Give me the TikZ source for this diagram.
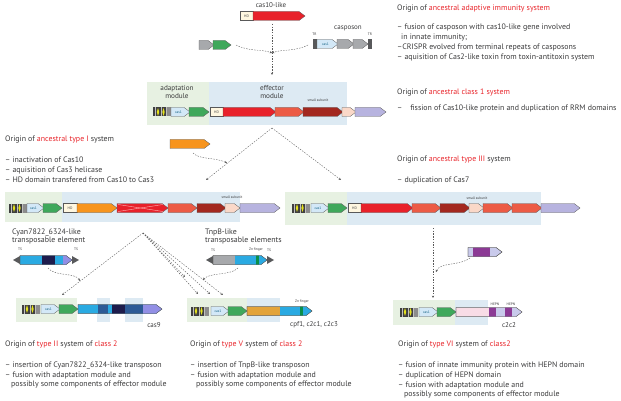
\documentclass[tikz,border=0pt]{standalone}
\usepackage{fontspec}
\setmainfont{PT Sans}
\usetikzlibrary{arrows.meta}
\definecolor{txtgray}{HTML}{3A3A3B}
\definecolor{hotred}{HTML}{E8252B}
\definecolor{casred}{HTML}{E8212A}
\definecolor{salmon}{HTML}{EC5B45}
\definecolor{darkred}{HTML}{A3281F}
\definecolor{paleskin}{HTML}{FAD8C8}
\definecolor{lavender}{HTML}{B7B3DF}
\definecolor{genegreen}{HTML}{3FA85B}
\definecolor{caslblue}{HTML}{D3E8F7}
\definecolor{hdcream}{HTML}{FFF7E0}
\definecolor{genegray}{HTML}{A7A9AC}
\definecolor{casorange}{HTML}{F7941D}
\definecolor{goldorange}{HTML}{E3A33A}
\definecolor{cyanblue}{HTML}{2AAAE2}
\definecolor{navy}{HTML}{1E1C4C}
\definecolor{midblue}{HTML}{2D5A96}
\definecolor{hepn}{HTML}{8C3A95}
\definecolor{palelav}{HTML}{C9CAEB}
\definecolor{palepink}{HTML}{F8DCE6}
\definecolor{adaptbg}{HTML}{E7F1E2}
\definecolor{effbg}{HTML}{DDEAF3}
\definecolor{tsgray}{HTML}{58595B}
\definecolor{crisprgray}{HTML}{3F3F40}
\definecolor{spacer}{HTML}{E4E21D}
\definecolor{zngreen}{HTML}{0A8F4A}
\tikzset{
	gene/.style={draw=black!65, line width=0.3pt},
	link/.style={draw=black!65, line width=0.4pt, dash pattern=on 1.4pt off 1.3pt, -{Stealth[length=2.4pt,width=2.2pt]}},
	linkplain/.style={draw=black!65, line width=0.4pt, dash pattern=on 1.4pt off 1.3pt},
	txt/.style={anchor=west, inner sep=0, text=txtgray, font=\fontsize{7.9}{9}\selectfont},
	smalltxt/.style={inner sep=0, text=txtgray, font=\fontsize{7}{8}\selectfont},
	modtxt/.style={inner sep=0, align=center, text=txtgray, font=\fontsize{7.2}{8.6}\selectfont},
	tinytxt/.style={inner sep=0, text=txtgray, font=\fontsize{3.6}{4}\selectfont}
}
\newcommand{\hl}[1]{\textcolor{hotred}{#1}}
\newcommand{\gene}[4]{\filldraw[gene,fill=#4] (#1,#3-4.5) -- (#2-6,#3-4.5) -- (#2,#3) -- (#2-6,#3+4.5) -- (#1,#3+4.5) -- cycle;}
\newcommand{\geneclip}[3]{\clip (#1,#3-4.5) -- (#2-6,#3-4.5) -- (#2,#3) -- (#2-6,#3+4.5) -- (#1,#3+4.5) -- cycle;}
\newcommand{\geneedge}[3]{\draw[gene] (#1,#3-4.5) -- (#2-6,#3-4.5) -- (#2,#3) -- (#2-6,#3+4.5) -- (#1,#3+4.5) -- cycle;}
\newcommand{\hdbox}[3]{\filldraw[gene,fill=hdcream] (#1,#3-4.5) rectangle (#2,#3+4.5); \node[tinytxt,text=black!75] at ({(#1+#2)/2},#3) {HD};}
\newcommand{\casone}[3]{\gene{#1}{#2}{#3}{caslblue} \node[tinytxt,text=cyanblue!60!black] at ({(#1+#2)/2-2},#3) {cas1};}
\newcommand{\crispr}[2]{\fill[crisprgray] (#1,#2-4.5) rectangle (#1+18,#2+4.5);
	\fill[spacer] (#1+5,#2-4) -- (#1+6.2,#2) -- (#1+5,#2+4) -- (#1+3.8,#2) -- cycle;
	\fill[spacer] (#1+10.5,#2-4) -- (#1+11.7,#2) -- (#1+10.5,#2+4) -- (#1+9.3,#2) -- cycle;
	\fill[black!45] (#1+14,#2-4.5) rectangle (#1+18,#2+4.5);
	\draw[black!25, line width=0.3pt] (#1+2,#2-4.5) -- (#1+2,#2+4.5) (#1+7.8,#2-4.5) -- (#1+7.8,#2+4.5) (#1+13,#2-4.5) -- (#1+13,#2+4.5);}
\newcommand{\tsleft}[2]{\fill[tsgray] (#1,#2-4) -- (#1-7,#2) -- (#1,#2+4) -- cycle;}
\newcommand{\tsright}[2]{\fill[tsgray] (#1,#2-4) -- (#1+7,#2) -- (#1,#2+4) -- cycle;}
\newcommand{\trbar}[2]{\fill[tsgray] (#1,#2-5) rectangle (#1+3.5,#2+5);}
\begin{document}
\begin{tikzpicture}[x=1pt,y=-1pt]
	\useasboundingbox (0,0) rectangle (621,401);
	\fill[adaptbg] (147,82) rectangle (209,125);
	\fill[effbg] (209,82) rectangle (347,125);
	\fill[adaptbg] (5,192) rectangle (62,222);
	\fill[effbg] (62,192) rectangle (240,222);
	\fill[adaptbg] (285,192) rectangle (347,225);
	\fill[effbg] (347,192) rectangle (541,225);
	\fill[adaptbg] (16,298) rectangle (77,322);
	\fill[effbg] (97,298) rectangle (110,322);
	\fill[effbg] (125,298) rectangle (143,322);
	\fill[adaptbg] (187,298) rectangle (247,322);
	\fill[effbg] (247,298) rectangle (280,322);
	\fill[adaptbg] (393,300) rectangle (455,325);
	\fill[effbg] (455,300) rectangle (488,325);

	\node[smalltxt] (cas10lbl) at (271,5) {cas10-like};
	\hdbox{240}{253}{16}
	\gene{253}{305}{16}{casred}
	\gene{199}{214}{45}{genegray}
	\gene{213}{231}{45}{genegreen}
	\node[smalltxt] (casposon) at (348,28) {casposon};
	\node[tinytxt] (trleft) at (314.5,34) {TR};
	\node[tinytxt] (trright) at (370,34) {TR};
	\trbar{313}{44}
	\casone{317}{338}{44}
	\gene{337}{354}{44}{genegray}
	\gene{353}{368}{44}{genegray}
	\trbar{368}{44}

	\coordinate (cas10out) at (272,24);
	\coordinate (merge) at (272,53);
	\coordinate (ancestor) at (272,75);
	\coordinate (greenout) at (236,45);
	\coordinate (casposonout) at (308,45);
	\draw[linkplain] (cas10out) -- (merge);
	\draw[link] (greenout) .. controls (250,52) and (262,49) .. (merge);
	\draw[link] (casposonout) .. controls (294,52) and (282,49) .. (merge);
	\draw[link] (merge) -- (ancestor);

	\node[modtxt] (adaptlbl) at (177,92) {adaptation\\module};
	\node[modtxt] (efflbl) at (272,92) {effector\\module};
	\node[tinytxt] (smallone) at (318,100) {small subunit};
	\crispr{153}{112}
	\casone{171}{190}{112}
	\gene{189}{209}{112}{genegreen}
	\hdbox{210}{223}{112}
	\gene{223}{276}{112}{casred}
	\gene{275}{304}{112}{salmon}
	\gene{303}{343}{112}{darkred}
	\gene{342}{356}{112}{paleskin}
	\gene{355}{386}{112}{lavender}

	\node[txt] (adaptive) at (397,9) {Origin of \hl{ancestral adaptive immunity system}};
	\node[txt] (adaptivea) at (397,28) {– fusion of casposon with cas10-like gene involved};
	\node[txt] (adaptiveb) at (401,37.5) {in innate immunity;};
	\node[txt] (adaptivec) at (397,47) {–CRISPR evolved from terminal repeats of casposons};
	\node[txt] (adaptived) at (397,57) {– aquisition of Cas2-like toxin from toxin-antitoxin system};
	\node[txt] (classone) at (397,93) {Origin of \hl{ancestral class 1 system}};
	\node[txt] (classonea) at (397,108) {–\hspace{8pt}fission of Cas10-like protein and duplication of RRM domains};

	\node[txt] (typeone) at (5,140) {Origin of \hl{ancestral type I} system};
	\node[txt] (typeonea) at (5,160) {– inactivation of Cas10};
	\node[txt] (typeoneb) at (5,170) {– aquisition of Cas3 helicase};
	\node[txt] (typeonec) at (5,180) {– HD domain transfered from Cas10 to Cas3};
	\gene{170}{210}{144}{casorange}

	\coordinate (classoneout) at (272,128);
	\coordinate (typeonein) at (206,180);
	\coordinate (typethreein) at (341,180);
	\coordinate (cas3out) at (193,153);
	\coordinate (cas3in) at (227,163);
	\draw[link] (classoneout) -- (typeonein);
	\draw[link] (classoneout) -- (typethreein);
	\draw[link] (cas3out) .. controls (200,160) and (215,157) .. (cas3in);

	\crispr{9}{208}
	\casone{27}{44}{208}
	\gene{43}{62}{208}{genegreen}
	\hdbox{63}{77}{208}
	\gene{77}{117}{208}{casorange}
	\gene{117}{168}{208}{casred}
	\draw[red!30!white, line width=0.4pt] (118,204.5) -- (163,211.5);
	\draw[red!30!white, line width=0.4pt] (118,211.5) -- (163,204.5);
	\gene{168}{197}{208}{salmon}
	\gene{197}{226}{208}{darkred}
	\gene{225}{240}{208}{paleskin}
	\gene{240}{280}{208}{lavender}
	\node[tinytxt] (smalltwo) at (232,197) {small subunit};

	\node[txt] (typethree) at (397,160) {Origin of \hl{ancestral type III} system};
	\node[txt] (typethreea) at (397,180) {– duplication of Cas7};
	\crispr{292}{208}
	\casone{311}{329}{208}
	\gene{328}{347}{208}{genegreen}
	\hdbox{348}{361}{208}
	\gene{361}{413}{208}{casred}
	\gene{412}{441}{208}{salmon}
	\gene{440}{470}{208}{darkred}
	\gene{469}{484}{208}{paleskin}
	\gene{483}{513}{208}{salmon}
	\gene{512}{542}{208}{salmon}
	\gene{541}{580}{208}{lavender}
	\node[tinytxt] (smallthree) at (477,198) {small subunit};

	\node[txt] (cyanlbl) at (12,232) {Cyan7822\_6324-like};
	\node[txt] (cyanlblb) at (12,241) {transposable element};
	\node[tinytxt] (tsa) at (20,249) {TS};
	\node[tinytxt] (tsb) at (76,249) {TS};
	\tsleft{20}{260}
	\gene{20}{72}{260}{cyanblue}
	\begin{scope}
		\geneclip{20}{72}{260}
		\fill[navy] (42,250) rectangle (55,270);
		\fill[lavender!80!blue] (63,250) rectangle (72,270);
	\end{scope}
	\geneedge{20}{72}{260}
	\tsright{72}{260}

	\node[txt] (tnpblbl) at (205,232) {TnpB-like};
	\node[txt] (tnpblblb) at (205,241) {transposable elements};
	\node[tinytxt] (tsc) at (213,250) {TS};
	\node[tinytxt] (tsd) at (269,250) {TS};
	\node[tinytxt] (znone) at (256,250) {Zn finger};
	\tsleft{213}{260}
	\gene{213}{267}{260}{genegray}
	\begin{scope}
		\geneclip{213}{267}{260}
		\fill[cyanblue] (235,250) rectangle (267,270);
		\fill[zngreen] (256,250) rectangle (259,270);
	\end{scope}
	\geneedge{213}{267}{260}
	\tsright{267}{260}

	\coordinate (cyanout) at (48,268);
	\coordinate (cyanin) at (80,281);
	\coordinate (tnpbout) at (238,268);
	\coordinate (tnpbin) at (203,280);
	\coordinate (split) at (143,233);
	\coordinate (typetwoin) at (62,295);
	\coordinate (typefivea) at (185,277);
	\coordinate (typefiveb) at (198,294);
	\coordinate (typefivec) at (210,294);
	\coordinate (typefived) at (223,295);
	\draw[link] (cyanout) .. controls (55,277) and (75,272) .. (cyanin);
	\draw[link] (tnpbout) .. controls (230,276) and (210,272) .. (tnpbin);
	\draw[link] (split) -- (typetwoin);
	\draw[link] (split) -- (typefivea);
	\draw[link] (split) -- (typefiveb);
	\draw[link] (split) -- (typefivec);
	\draw[link] (split) -- (typefived);

	\crispr{22}{309}
	\casone{41}{60}{309}
	\gene{59}{78}{309}{genegreen}
	\gene{78}{162}{309}{cyanblue}
	\begin{scope}
		\geneclip{78}{162}{309}
		\fill[midblue] (98,300) rectangle (108,320);
		\fill[navy] (112,300) rectangle (125,320);
		\fill[midblue] (125,300) rectangle (143,320);
		\fill[lavender!80!blue] (143,300) rectangle (162,320);
	\end{scope}
	\geneedge{78}{162}{309}
	\node[smalltxt] (cas9) at (154,325) {cas9};

	\crispr{191}{311}
	\casone{211}{229}{311}
	\gene{228}{247}{311}{genegreen}
	\gene{247}{312}{311}{goldorange}
	\begin{scope}
		\geneclip{247}{312}{311}
		\fill[cyanblue] (280,300) rectangle (312,320);
		\fill[zngreen] (300,300) rectangle (303,320);
	\end{scope}
	\geneedge{247}{312}{311}
	\node[tinytxt] (zntwo) at (302,302) {Zn finger};
	\node[smalltxt] (cpf) at (314,325) {cpf1, c2c1, c2c3};

	\gene{468}{502}{252}{palelav}
	\begin{scope}
		\geneclip{468}{502}{252}
		\fill[hepn] (473,245) rectangle (490,260);
	\end{scope}
	\geneedge{468}{502}{252}
	\coordinate (hepnout) at (470,258);
	\coordinate (hepnin) at (436,272);
	\coordinate (typethreeout) at (433,228);
	\coordinate (typesixin) at (433,298);
	\draw[link] (hepnout) .. controls (460,266) and (440,262) .. (hepnin);
	\draw[link] (typethreeout) -- (typesixin);

	\crispr{400}{312}
	\casone{419}{438}{312}
	\gene{437}{456}{312}{genegreen}
	\gene{456}{522}{312}{palepink}
	\begin{scope}
		\geneclip{456}{522}{312}
		\fill[palelav] (489,305) rectangle (522,320);
		\fill[hepn] (489,305) rectangle (496,320);
		\fill[hepn] (505,305) rectangle (512,320);
	\end{scope}
	\geneedge{456}{522}{312}
	\node[tinytxt] (hepna) at (495,304) {HEPN};
	\node[tinytxt] (hepnb) at (511,304) {HEPN};
	\node[smalltxt] (c2c2) at (509,325) {c2c2};

	\node[txt] (typetwo) at (5,345) {Origin of \hl{type II} system of \hl{class 2}};
	\node[txt] (typetwoa) at (5,365) {– insertion of Cyan7822\_6324-like transposon};
	\node[txt] (typetwob) at (5,375) {– fusion with adaptation module and};
	\node[txt] (typetwoc) at (11,385) {possibly some components of effector module};
	\node[txt] (typefive) at (190,345) {Origin of \hl{type V} system of \hl{class 2}};
	\node[txt] (typefivea) at (190,365) {– insertion of TnpB-like transposon};
	\node[txt] (typefiveb) at (190,375) {– fusion with adaptation module and};
	\node[txt] (typefivec) at (196,385) {possibly some components of effector module};
	\node[txt] (typesix) at (398,345) {Origin of \hl{type VI} system of \hl{class2}};
	\node[txt] (typesixa) at (398,365) {– fusion of innate immunity protein with HEPN domain};
	\node[txt] (typesixb) at (398,375) {– duplication of HEPN domain};
	\node[txt] (typesixc) at (398,385) {– fusion with adaptation module and};
	\node[txt] (typesixd) at (404,395) {possibly some components of effector module};
\end{tikzpicture}
\end{document}
